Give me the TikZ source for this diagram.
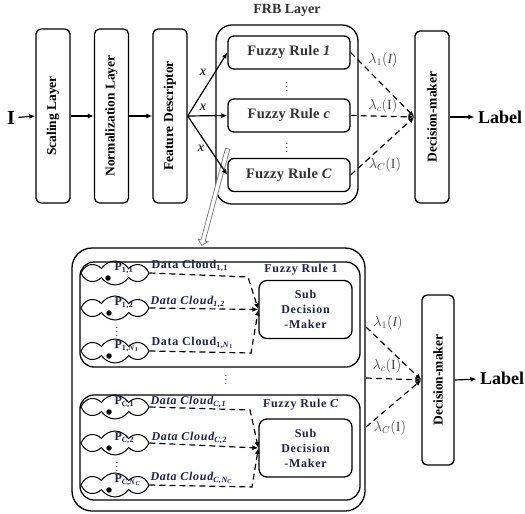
\documentclass[tikz,border=0pt]{standalone}
\usepackage{fontspec}
\setmainfont{Liberation Serif}
\usepackage{amsmath}
\usepackage{xcolor}
\usepackage{tikz}
\usetikzlibrary{shapes.symbols,shapes.arrows,arrows.meta}
\definecolor{navy}{RGB}{28,34,82}
\definecolor{lambdagray}{RGB}{70,70,70}
\tikzstyle{layer}=[draw=black, line width=1.3pt, rounded corners=5pt, rotate=90, minimum width=174pt, minimum height=34pt, font=\fontsize{13.5}{14}\selectfont\bfseries]
\tikzstyle{rule}=[draw=black, line width=1.3pt, rounded corners=6pt, minimum width=122pt, minimum height=33pt, font={\fontsize{14.5}{15}\selectfont\bfseries\addfontfeature{LetterSpace=2}}, text=black!80]
\tikzstyle{frame}=[draw=black, line width=1.3pt, rounded corners=16pt]
\tikzstyle{cloud node}=[draw=black, line width=1pt, shape=cloud, cloud puffs=8, cloud puff arc=115, aspect=2.8, minimum width=68pt, minimum height=24pt, inner sep=0pt]
\tikzstyle{dot}=[circle, fill=black, inner sep=0pt, minimum size=5.5pt]
\tikzstyle{vdots}=[font=\small, inner sep=0pt]
\tikzstyle{sub}=[draw=black, line width=1.3pt, rounded corners=8pt, minimum width=93pt, minimum height=58pt, align=center, text=navy, font={\fontsize{12}{15}\selectfont\bfseries\addfontfeature{LetterSpace=6}}]
\tikzstyle{navy text}=[text=navy, font={\fontsize{12}{14}\selectfont\bfseries\addfontfeature{LetterSpace=6}}]
\tikzstyle{lambda}=[text=lambdagray, font=\fontsize{14}{14}\selectfont]
\tikzstyle{flow edge}=[-{Latex[length=6pt,width=5pt]}, draw=black, line width=1.2pt]
\tikzstyle{dash edge}=[-{Latex[length=6pt,width=5pt]}, draw=black, line width=1.2pt, dash pattern=on 6pt off 4pt]
\pgfdeclarelayer{nodelayer}
\pgfdeclarelayer{edgelayer}
\pgfsetlayers{main,nodelayer,edgelayer}

\begin{document}
\begin{tikzpicture}[x=1pt, y=-1pt]
	\useasboundingbox (0,0) rectangle (525,514);
	\begin{pgfonlayer}{nodelayer}
		% upper chain
		\node [font=\fontsize{20}{20}\selectfont\bfseries] (0) at (11,118) {I};
		\node [style=layer] (1) at (53,116) {Scaling Layer};
		\node [style=layer] (2) at (111.5,116) {Normalization Layer};
		\node [style=layer] (3) at (170,116) {Feature Descriptor};
		\node [style=frame, minimum width=142pt, minimum height=179pt] (4) at (287,114.5) {};
		\node [font=\fontsize{14}{14}\selectfont\bfseries, text=black!80] (5) at (287,10) {FRB Layer};
		\node [style=rule] (6) at (289,52.5) {Fuzzy Rule \textit{1}};
		\node [style=rule] (7) at (289,115.5) {Fuzzy Rule \textit{c}};
		\node [style=rule] (8) at (289,175) {Fuzzy Rule \textit{C}};
		\node [style=vdots] (9) at (287,84) {$\vdots$};
		\node [style=vdots] (10) at (287,145) {$\vdots$};
		\node [style=layer, minimum width=172pt] (11) at (432,117) {Decision-maker};
		\node [font=\fontsize{18}{18}\selectfont\bfseries] (12) at (500,117) {Label};
		\node [font=\fontsize{14}{14}\selectfont\itshape] (13) at (203,72) {x};
		\node [font=\fontsize{14}{14}\selectfont\itshape] (14) at (203,107) {x};
		\node [font=\fontsize{14}{14}\selectfont\itshape] (15) at (201,148) {x};
		\node [style=lambda] (16) at (383,60) {$\lambda_{1}(\mathit{I})$};
		\node [style=lambda] (17) at (383,106) {$\lambda_{c}(\mathrm{I})$};
		\node [style=lambda] (18) at (385,165) {$\lambda_{C}(\mathrm{I})$};
		\node [shape=single arrow, draw=gray, fill=white, line width=0.8pt, minimum height=100pt, minimum width=10pt, single arrow head extend=2.5pt, inner sep=1.5pt, rotate=-105] (19) at (215,196) {};
		% lower detail
		\node [style=frame, rounded corners=20pt, minimum width=293pt, minimum height=263pt] (20) at (218.5,379.5) {};
		\node [style=frame, rounded corners=14pt, minimum width=280pt, minimum height=105pt] (21) at (220,314.5) {};
		\node [style=frame, rounded corners=14pt, minimum width=280pt, minimum height=105pt] (22) at (220,447.5) {};
		\node [style=navy text] (23) at (301,270) {Fuzzy Rule 1};
		\node [style=navy text] (24) at (301,405) {Fuzzy Rule \textit{C}};
		\node [style=sub] (25) at (305.5,309.5) {Sub\\Decision\\-Maker};
		\node [style=sub] (26) at (305.5,448) {Sub\\Decision\\-Maker};
		\node [style=cloud node] (27) at (115,273) {};
		\node [style=cloud node] (28) at (115,308) {};
		\node [style=cloud node] (29) at (115,351) {};
		\node [style=cloud node] (30) at (115,407) {};
		\node [style=cloud node] (31) at (115,443) {};
		\node [style=cloud node] (32) at (115,485) {};
		\node [style=dot] (33) at (108,278) {};
		\node [style=dot] (34) at (109,313) {};
		\node [style=dot] (35) at (109,356) {};
		\node [style=dot] (36) at (109,412) {};
		\node [style=dot] (37) at (109,448) {};
		\node [style=dot] (38) at (109,490) {};
		\node [style=navy text, anchor=west] (39) at (111,268) {P\textsubscript{1,1}};
		\node [style=navy text, anchor=west] (40) at (111,303) {P\textsubscript{1,2}};
		\node [style=navy text, anchor=west] (41) at (111,346) {P\textsubscript{1,\textit{N}\textsubscript{1}}};
		\node [style=navy text, anchor=west] (42) at (111,402) {P\textsubscript{\textit{C},1}};
		\node [style=navy text, anchor=west] (43) at (111,438) {P\textsubscript{\textit{C},2}};
		\node [style=navy text, anchor=west] (44) at (111,480) {P\textsubscript{\textit{C},\textit{N}\textsubscript{\textit{C}}}};
		\node [style=navy text, anchor=west] (45) at (148,266) {Data Cloud\textsubscript{1,1}};
		\node [style=navy text, anchor=west] (46) at (147,302) {\itshape Data Cloud\textsubscript{1,2}};
		\node [style=navy text, anchor=west] (47) at (148,343) {Data Cloud\textsubscript{1,\textit{N}\textsubscript{1}}};
		\node [style=navy text, anchor=west] (48) at (147,402) {\itshape Data Cloud\textsubscript{\textit{C},1}};
		\node [style=navy text, anchor=west] (49) at (148,438) {\itshape Data Cloud\textsubscript{\textit{C},2}};
		\node [style=navy text, anchor=west] (50) at (147,478) {\itshape Data Cloud\textsubscript{\textit{C},\textit{N}\textsubscript{\textit{C}}}};
		\node [style=vdots] (51) at (117,329) {$\vdots$};
		\node [style=vdots] (52) at (117,464) {$\vdots$};
		\node [style=vdots] (53) at (226,377) {$\vdots$};
		\node [style=layer, minimum width=170pt, minimum height=32pt] (54) at (438,380) {Decision-maker};
		\node [font=\fontsize{18}{18}\selectfont\bfseries] (55) at (502,378) {Label};
		\node [style=lambda] (56) at (388,323) {$\lambda_{1}(\mathit{I})$};
		\node [style=lambda] (57) at (387,366) {$\lambda_{c}(\mathrm{I})$};
		\node [style=lambda] (58) at (390,428) {$\lambda_{C}(\mathrm{I})$};
		\coordinate (60) at (248,277);
		\coordinate (61) at (251,353);
		\coordinate (62) at (250,410);
		\coordinate (63) at (252,487);
		\coordinate (64) at (366,327);
		\coordinate (65) at (366,378);
		\coordinate (66) at (366,427);
	\end{pgfonlayer}
	\begin{pgfonlayer}{edgelayer}
		\draw [style=flow edge] (0) to (1.north);
		\draw [style=flow edge] (1.south) to (2.north);
		\draw [style=flow edge] (2.south) to (3.north);
		\draw [style=flow edge] (3.south) to (6.west);
		\draw [style=flow edge] (3.south) to (7.west);
		\draw [style=flow edge] (3.south) to (8.west);
		\draw [style=dash edge] (6.east) to (11.north);
		\draw [style=dash edge] (7.east) to (11.north);
		\draw [style=dash edge] (8.east) to (11.north);
		\draw [style=flow edge] (11.south) to (12);
		\draw [style=dash edge] (27.east) -- (60) -- (25.west);
		\draw [style=dash edge] (28.east) -- (25.west);
		\draw [style=dash edge] (29.east) -- (61) -- (25.west);
		\draw [style=dash edge] (30.east) -- (62) -- (26.west);
		\draw [style=dash edge] (31.east) -- (26.west);
		\draw [style=dash edge] (32.east) -- (63) -- (26.west);
		\draw [style=dash edge] (64) to (54.north);
		\draw [style=dash edge] (65) to (54.north);
		\draw [style=dash edge] (66) to (54.north);
		\draw [style=flow edge] (54.south) to (55);
	\end{pgfonlayer}
\end{tikzpicture}
\end{document}
